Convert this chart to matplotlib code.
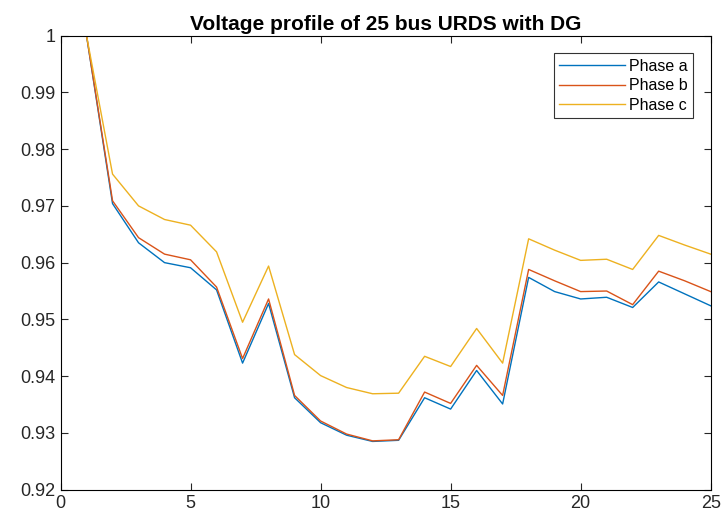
import matplotlib
matplotlib.use('Agg')
import matplotlib.pyplot as plt

plt.rcParams['font.family'] = ['Liberation Sans', 'DejaVu Sans']

# bus numbers and per-phase voltage (p.u.)
bus = list(range(1, 26))
phase_a = [1.0, 0.9704, 0.9635, 0.9600, 0.9591, 0.9552, 0.9423, 0.9528, 0.9362,
           0.9318, 0.9296, 0.9285, 0.9287, 0.9362, 0.9342, 0.9410, 0.9351, 0.9574,
           0.9549, 0.9536, 0.9539, 0.9521, 0.9566, 0.9545, 0.9524]
phase_b = [1.0, 0.9709, 0.9644, 0.9615, 0.9605, 0.9557, 0.9431, 0.9536, 0.9366,
           0.9321, 0.9298, 0.9286, 0.9288, 0.9372, 0.9352, 0.9419, 0.9366, 0.9588,
           0.9568, 0.9549, 0.9550, 0.9526, 0.9585, 0.9568, 0.9549]
phase_c = [1.0, 0.9756, 0.9700, 0.9676, 0.9666, 0.9619, 0.9495, 0.9594, 0.9438,
           0.9401, 0.9380, 0.9369, 0.9370, 0.9435, 0.9417, 0.9484, 0.9423, 0.9642,
           0.9622, 0.9604, 0.9606, 0.9588, 0.9648, 0.9631, 0.9615]

fig = plt.figure(figsize=(7.24, 5.16), dpi=100)
ax = fig.add_axes([0.0836, 0.051, 0.898, 0.880])

ax.plot(bus, phase_a, color='#0072BD', linewidth=1.0, label='Phase a')
ax.plot(bus, phase_b, color='#D95319', linewidth=1.0, label='Phase b')
ax.plot(bus, phase_c, color='#EDB120', linewidth=1.0, label='Phase c')

ax.set_xlim(0, 25)
ax.set_ylim(0.92, 1.0)
ax.set_xticks([0, 5, 10, 15, 20, 25])
ax.set_yticks([0.92, 0.93, 0.94, 0.95, 0.96, 0.97, 0.98, 0.99, 1.0])
ax.set_yticklabels(['0.92', '0.93', '0.94', '0.95', '0.96', '0.97', '0.98', '0.99', '1'])
ax.tick_params(direction='in', top=True, right=True, labelsize=13, length=5, width=0.8,
               colors='#262626', labelcolor='#262626')
for s in ax.spines.values():
    s.set_linewidth(0.8)

ax.set_title('Voltage profile of 25 bus URDS with DG', fontsize=15, fontweight='bold', pad=4)

leg = ax.legend(loc='upper right', fontsize=11.5, frameon=True, fancybox=False,
                edgecolor='black', handlelength=4.1, borderaxespad=1.1,
                labelspacing=0.28, handletextpad=0.25, borderpad=0.35)
leg.get_frame().set_linewidth(0.8)

plt.savefig('out.png', dpi=100, facecolor='white')
